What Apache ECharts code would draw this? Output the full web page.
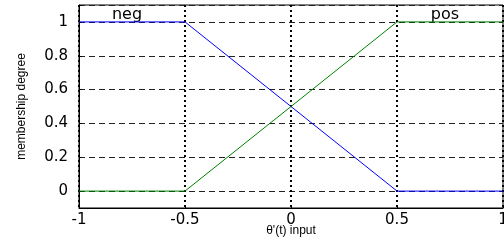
<!DOCTYPE html>
<html>
<head>
<meta charset="utf-8">
<script src="https://cdn.jsdelivr.net/npm/echarts@6/dist/echarts.min.js"></script>
<style>
  html, body { margin: 0; padding: 0; background: #fff; }
  #chart { width: 504px; height: 240px; }
</style>
</head>
<body>
<div id="chart"></div>
<script>
// membership functions, breakpoints
const xNeg = [-1, -0.5, 0.5, 1];
const yNeg = [1, 1, 0, 0];
const xPos = [-1, -0.5, 0.5, 1];
const yPos = [0, 0, 1, 1];
const setNames = ['neg', 'pos'];
const yTicks = [0, 0.2, 0.4, 0.6, 0.8, 1];

const chart = echarts.init(document.getElementById('chart'));
const font = '"DejaVu Sans", Arial, sans-serif';
const small = 'Arial, "Liberation Sans", sans-serif';

chart.setOption({
  animation: false,
  grid: {
    left: 79, right: 1, top: 5, bottom: 32,
    outerBoundsMode: 'none', containLabel: false,
    show: true, borderColor: '#000', borderWidth: 1
  },
  xAxis: {
    type: 'value', min: -1, max: 1, interval: 0.5,
    name: "θ'(t) input", nameLocation: 'middle', nameGap: 17, nameMoveOverlap: false,
    nameTextStyle: { fontFamily: small, fontSize: 12, color: '#000' },
    axisLine: { onZero: false, lineStyle: { color: '#000' } },
    axisTick: { inside: true, length: 3, lineStyle: { color: '#000' } },
    axisLabel: { fontFamily: font, fontSize: 15, color: '#000', margin: 5 },
    splitLine: { show: true, lineStyle: { type: [2, 3], width: 2, color: '#000' } }
  },
  yAxis: {
    type: 'value', min: -0.1, max: 1.1,
    name: 'membership degree', nameLocation: 'middle', nameGap: 51, nameMoveOverlap: false,
    nameTextStyle: { fontFamily: small, fontSize: 12, color: '#000' },
    axisLine: { onZero: false, lineStyle: { color: '#000' } },
    axisTick: { inside: true, length: 3, lineStyle: { color: '#000' } },
    axisLabel: {
      fontFamily: font, fontSize: 15, color: '#000', margin: 11,
      customValues: yTicks
    },
    splitLine: { show: true, lineStyle: { type: [6, 4], width: 1, color: '#222' } }
  },
  series: [
    {
      name: setNames[0], type: 'line', symbol: 'none',
      lineStyle: { color: '#0000ff', width: 1 },
      data: xNeg.map((x, i) => [x, yNeg[i]])
    },
    {
      name: setNames[1], type: 'line', symbol: 'none',
      lineStyle: { color: '#008000', width: 1 },
      data: xPos.map((x, i) => [x, yPos[i]])
    }
  ],
  graphic: [
    { type: 'text', x: 127, y: 15, style: { text: setNames[0], font: '16px ' + font, fill: '#000', align: 'center', verticalAlign: 'middle' } },
    { type: 'text', x: 445, y: 15, style: { text: setNames[1], font: '16px ' + font, fill: '#000', align: 'center', verticalAlign: 'middle' } }
  ]
});
</script>
</body>
</html>
